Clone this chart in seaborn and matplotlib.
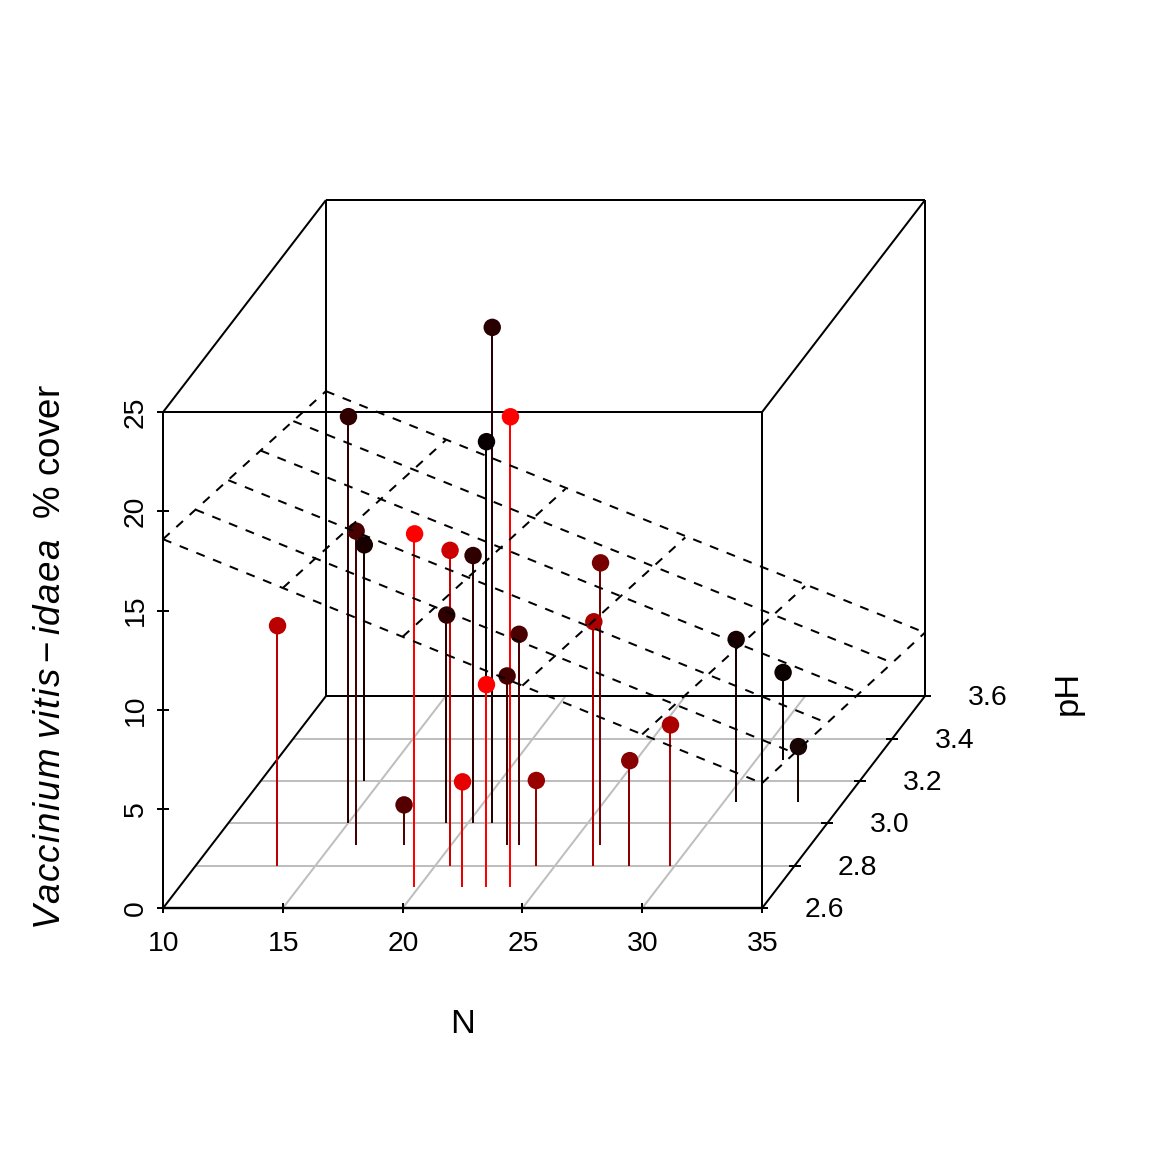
import matplotlib
matplotlib.use('Agg')
import matplotlib.pyplot as plt
import pandas as pd
import seaborn as sns

# values
n_vals = [13.4, 15.0, 16.0, 14.3, 18.0, 19.8, 20.6, 19.1, 21.8, 20.2, 19.4, 21.0,
          22.8, 23.8, 22.3, 22.8, 24.2, 26.6, 26.2, 28.1, 29.8, 30.5, 31.1, 33.1]
ph_vals = [2.8, 3.0, 2.9, 3.2, 2.9, 2.7, 2.8, 3.0, 2.7, 3.0, 3.2, 3.0,
           2.7, 2.7, 2.9, 2.9, 2.8, 2.8, 2.9, 2.8, 2.8, 3.1, 3.3, 3.1]
cover_vals = [12.1, 20.5, 15.8, 11.9, 2.0, 17.8, 15.9, 10.5, 5.3, 13.5, 17.1, 25.0,
              10.2, 23.7, 8.5, 10.6, 4.3, 12.3, 14.2, 5.3, 7.1, 8.2, 4.4, 2.8]
colours = ['#bb0000', '#300000', '#4a0000', '#180000', '#550000', '#ff0000', '#cc0000', '#300000',
           '#e60000', '#2e0000', '#080000', '#280000', '#ff0000', '#ff0000', '#440000', '#4a0000',
           '#990000', '#aa0000', '#770000', '#880000', '#aa0000', '#1a0000', '#0a0000', '#1a0505']

n_ticks = [10, 15, 20, 25, 30, 35]
ph_ticks = [2.6, 2.8, 3.0, 3.2, 3.4, 3.6]
cover_ticks = [0, 5, 10, 15, 20, 25]

# fitted plane, cover at the edges of the box
plane_front = [18.6, 16.14, 13.68, 11.22, 8.76, 6.3]
plane_back = [15.37, 12.9, 10.45, 8.0, 5.55, 3.2]
plane_left = [18.6, 17.95, 17.3, 16.65, 16.0, 15.37]
plane_right = [6.3, 5.68, 5.06, 4.44, 3.82, 3.2]

# the oblique projection of scatterplot3d: pixels per unit on the page
PX_N = 23.96
PX_COVER = 19.84
SHIFT_X = 6.80   # N units per pH unit
SHIFT_Y = 10.69  # cover units per pH unit


def proj(n, ph, cover):
    return n + (ph - 2.6) * SHIFT_X, cover + (ph - 2.6) * SHIFT_Y


def seg(ax, p, q, **kw):
    x0, y0 = proj(*p)
    x1, y1 = proj(*q)
    kw.setdefault('color', 'black')
    kw.setdefault('lw', 1.0)
    ax.plot([x0, x1], [y0, y1], solid_capstyle='butt', **kw)


sns.set_theme(style='white')
plt.rcParams['font.family'] = ['Liberation Sans', 'DejaVu Sans']
plt.rcParams['mathtext.fontset'] = 'custom'
plt.rcParams['mathtext.rm'] = 'Liberation Sans'
plt.rcParams['mathtext.it'] = 'Liberation Sans:italic'
plt.rcParams['text.color'] = 'black'

fig = plt.figure(figsize=(8, 8), dpi=144)
ax = fig.add_axes([0, 0, 1, 1])
ax.set_xlim(10 - 163 / PX_N, 10 + (1152 - 163) / PX_N)
ax.set_ylim(-(1152 - 908.2) / PX_COVER, 908.2 / PX_COVER)
ax.axis('off')

# floor grid
for ph in ph_ticks[1:]:
    seg(ax, (10, ph, 0), (35, ph, 0), color='#bebebe')
for n in n_ticks[1:-1]:
    seg(ax, (n, 2.6, 0), (n, 3.6, 0), color='#bebebe')

# box
for n in [10, 35]:
    seg(ax, (n, 2.6, 0), (n, 3.6, 0))
    seg(ax, (n, 2.6, 25), (n, 3.6, 25))
    seg(ax, (n, 2.6, 0), (n, 2.6, 25))
    seg(ax, (n, 3.6, 0), (n, 3.6, 25))
for ph in [2.6, 3.6]:
    seg(ax, (10, ph, 0), (35, ph, 0))
    seg(ax, (10, ph, 25), (35, ph, 25))
seg(ax, (10, 2.6, 0), (35, 2.6, 0), lw=1.2)

# ticks and their labels
for n in n_ticks:
    seg(ax, (n, 2.6, -0.25), (n, 2.6, 0.25))
    ax.text(n + 0.7 / PX_N, -1.78, str(n), ha='center', va='center', fontsize=14.2)
for c in cover_ticks:
    seg(ax, (9.75, 2.6, c), (10.25, 2.6, c))
    ax.text(10 - 27 / PX_N, c, str(c), ha='center', va='center', rotation=90, fontsize=14.2)
for ph in ph_ticks:
    seg(ax, (34.75, ph, 0), (35.25, ph, 0))
    x, y = proj(35, ph, 0)
    ax.text(x + 62.7 / PX_N, y - 2 / PX_COVER, f'{ph:.1f}', ha='center', va='center', fontsize=14.2)

df = pd.DataFrame({'N': n_vals, 'pH': ph_vals, 'cover': cover_vals, 'colour': colours})
df['sx'], df['sy'] = proj(df['N'], df['pH'], df['cover'])
df['base'] = proj(df['N'], df['pH'], 0)[1]
df['dot_x'] = df['sx'] + 0.5 / PX_N  # markers land half a pixel left of the stems otherwise

# stems, then points on top
for _, row in df.iterrows():
    ax.plot([row['sx'], row['sx']], [row['base'], row['sy']], color=row['colour'],
            lw=1.0, solid_capstyle='butt')
sns.scatterplot(data=df, x='dot_x', y='sy', hue=df.index, palette=colours, s=76,
                linewidth=0, legend=False, ax=ax, zorder=3)
ax.set_xlabel('')
ax.set_ylabel('')

# regression plane
dash = dict(lw=1.0, linestyle=(0, (4.5, 4.5)), zorder=4)
for i, n in enumerate(n_ticks):
    seg(ax, (n, 2.6, plane_front[i]), (n, 3.6, plane_back[i]), **dash)
for i, ph in enumerate(ph_ticks):
    seg(ax, (10, ph, plane_left[i]), (35, ph, plane_right[i]), **dash)

# axis titles
gap = r'\hspace{0.05}'
species = gap.join('Vaccinium') + r'\ ' + gap.join('vitis') + '-' + gap.join('idaea') + r'\ '
ax.text(10 + (462.5 - 163) / PX_N, (908 - 1024) / PX_COVER, 'N', ha='center', va='center', fontsize=17.2)
ax.text(10 + (1068 - 163) / PX_N, (908 - 693) / PX_COVER, 'pH', ha='center', va='center',
        rotation=90, fontsize=17.2)
ax.text(10 + (51 - 163) / PX_N, (908 - 657) / PX_COVER,
        r'$\mathit{' + species + r'}$ % cover', ha='center', va='center',
        rotation=90, fontsize=18.4)

fig.savefig('out.png', dpi=144)
